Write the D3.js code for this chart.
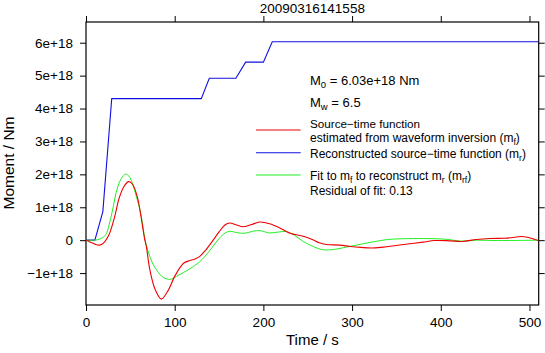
<!DOCTYPE html>
<html><head><meta charset="utf-8">
<script src="https://cdn.jsdelivr.net/npm/d3@7"></script>
<style>
body{margin:0;background:#fff;}
svg{display:block;font-family:"Liberation Sans",Arial,Helvetica,sans-serif;}
</style></head>
<body><svg id="c" width="545" height="353"></svg>
<script>
// ---- data (moment values in units of 1e18 Nm) ----
const title = "20090316141558";
const xTicks = [0, 100, 200, 300, 400, 500];
const yTicks = [-1, 0, 1, 2, 3, 4, 5, 6];
const yTickLabels = ["\u22121e+18", "0", "1e+18", "2e+18", "3e+18", "4e+18", "5e+18", "6e+18"];

const tMf = [0,5,10,15,20,26,32,37.5,43,48,52.5,58,62,66,68,72,78,85,93,100,110,117,123,128,135,142,150,157,162,170,177,186,196,207,218,230,245,255,263,271,286,298,310,322,335,350,365,380,393,410,424,440,455,472,482,490,499,505,510];
const mf  = [0,-0.06,-0.12,-0.15,-0.08,0.17,0.68,1.29,1.64,1.78,1.70,1.30,0.72,0.05,-0.19,-0.90,-1.50,-1.79,-1.51,-1.10,-0.70,-0.62,-0.57,-0.50,-0.30,-0.05,0.25,0.47,0.52,0.46,0.41,0.47,0.55,0.50,0.38,0.21,0.12,0.02,-0.08,-0.13,-0.15,-0.19,-0.22,-0.24,-0.21,-0.16,-0.11,-0.06,-0.01,-0.02,-0.04,0.02,0.05,0.06,0.08,0.11,0.08,0.03,-0.01];

const tMr = [0,10,19,29,130,139,169,180,200,210,510];
const mr  = [0,0,0.87,4.30,4.30,4.92,4.92,5.41,5.41,6.03,6.03];

const tMrf = [0,10,15,20,23,28,31,34,38,42,45,48,51,56,62,66,68,72,76,80,87,95,102,110,117,128,140,150,157,162,170,179,188,196,207,215,226,235,245,255,267,280,290,301,312,324,340,354,375,405,424,440,460,480,510];
const mrf  = [0,0,0.03,0.10,0.20,0.68,1.05,1.45,1.78,1.96,2.01,1.96,1.82,1.40,0.78,0.10,-0.15,-0.50,-0.75,-0.92,-1.13,-1.19,-1.10,-0.98,-0.87,-0.66,-0.30,0.05,0.22,0.27,0.23,0.21,0.27,0.29,0.22,0.24,0.26,0.15,-0.04,-0.18,-0.29,-0.28,-0.23,-0.17,-0.11,-0.05,0.02,0.04,0.05,0.03,-0.03,0.0,-0.01,-0.01,0.0];

const M0text = "6.03e+18 Nm";
const Mwtext = "6.5";
const residual = "0.13";

// ---- layout ----
const svg = d3.select("#c");
const L = 86, R = 538.7, T = 22, B = 305;
const x = d3.scaleLinear().domain([0, 510.4]).range([L, R]);
const y = d3.scaleLinear().domain([-1.97, 6.63]).range([B, T]);

// axes
const fs = 13.5;
const gB = svg.append("g").attr("transform", `translate(0,${B})`)
  .call(d3.axisBottom(x).tickValues(xTicks).tickSize(6).tickPadding(6).tickFormat(d3.format("d")));
const gT = svg.append("g").attr("transform", `translate(0,${T})`)
  .call(d3.axisTop(x).tickValues(xTicks).tickSize(6).tickFormat(""));
const gL = svg.append("g").attr("transform", `translate(${L},0)`)
  .call(d3.axisLeft(y).tickValues(yTicks).tickSize(6).tickPadding(7).tickFormat((d,i)=>yTickLabels[i]));
const gR = svg.append("g").attr("transform", `translate(${R},0)`)
  .call(d3.axisRight(y).tickValues(yTicks).tickSize(6).tickFormat(""));
[gB,gT,gL,gR].forEach(g=>{
  g.select(".domain").remove();
  g.selectAll("line").attr("stroke","#000");
  g.selectAll("text").attr("font-size",fs).attr("fill","#000").attr("font-family","Liberation Sans, Arial, sans-serif");
});
gB.selectAll("text").attr("dy","0.71em");

// box
svg.append("rect").attr("x",L).attr("y",T).attr("width",R-L).attr("height",B-T)
  .attr("fill","none").attr("stroke","#000").attr("stroke-width",1.2);

// clip
svg.append("clipPath").attr("id","clip").append("rect").attr("x",L).attr("y",T).attr("width",R-L).attr("height",B-T);

const mk = (ts, vs) => ts.map((t,i)=>[t, vs[i]]);
const smooth = d3.line().x(d=>x(d[0])).y(d=>y(d[1])).curve(d3.curveCatmullRom.alpha(0.5));
const straight = d3.line().x(d=>x(d[0])).y(d=>y(d[1]));
const plot = svg.append("g").attr("clip-path","url(#clip)");
plot.append("path").attr("d", straight(mk(tMr, mr))).attr("fill","none").attr("stroke","#1010e0").attr("stroke-width",1.1);
plot.append("path").attr("d", smooth(mk(tMrf, mrf))).attr("fill","none").attr("stroke","#22ee22").attr("stroke-width",1);
plot.append("path").attr("d", smooth(mk(tMf, mf))).attr("fill","none").attr("stroke","#ee0000").attr("stroke-width",1.1);

// titles
svg.append("text").attr("x",(L+R)/2).attr("y",13).attr("text-anchor","middle").attr("font-size",13.5).text(title);
svg.append("text").attr("x",(L+R)/2).attr("y",345).attr("text-anchor","middle").attr("font-size",15).text("Time / s");
svg.append("text").attr("transform","translate(14,163) rotate(-90)").attr("text-anchor","middle").attr("font-size",15.5).text("Moment / Nm");

// legend
const lx = 310, lfs = 12;
function sub(t, main, s, after){
  t.append("tspan").text(main);
  t.append("tspan").attr("font-size",lfs*0.72).attr("dy",3).text(s);
  if (after!==undefined) t.append("tspan").attr("dy",-3).text(after);
}
let t1 = svg.append("text").attr("x",lx).attr("y",85).attr("font-size",13);
t1.append("tspan").text("M");
t1.append("tspan").attr("font-size",9.5).attr("dy",3).text("0");
t1.append("tspan").attr("dy",-3).text(" = " + M0text);
let t2 = svg.append("text").attr("x",lx).attr("y",106.5).attr("font-size",13);
t2.append("tspan").text("M");
t2.append("tspan").attr("font-size",9.5).attr("dy",3).text("w");
t2.append("tspan").attr("dy",-3).text(" = " + Mwtext);

const legLines = [{c:"#ee0000",y:130},{c:"#1010e0",y:152.7},{c:"#22ee22",y:175}];
legLines.forEach(d=>svg.append("line").attr("x1",256).attr("x2",300.7).attr("y1",d.y).attr("y2",d.y).attr("stroke",d.c).attr("stroke-width",1.1));

svg.append("text").attr("x",lx).attr("y",128).attr("font-size",11.7).text("Source\u2212time function");
let t3 = svg.append("text").attr("x",lx).attr("y",141.5).attr("font-size",lfs);
sub(t3, "estimated from waveform inversion (m", "f", ")");
let t4 = svg.append("text").attr("x",lx).attr("y",157.5).attr("font-size",lfs);
sub(t4, "Reconstructed source\u2212time function (m", "r", ")");
let t5 = svg.append("text").attr("x",lx).attr("y",180).attr("font-size",lfs);
t5.append("tspan").text("Fit to m");
t5.append("tspan").attr("font-size",lfs*0.72).attr("dy",3).text("f");
t5.append("tspan").attr("dy",-3).text(" to reconstruct m");
t5.append("tspan").attr("font-size",lfs*0.72).attr("dy",3).text("r");
t5.append("tspan").attr("dy",-3).text(" (m");
t5.append("tspan").attr("font-size",lfs*0.72).attr("dy",3).text("rf");
t5.append("tspan").attr("dy",-3).text(")");
svg.append("text").attr("x",lx).attr("y",195).attr("font-size",lfs).text("Residual of fit: " + residual);
</script></body></html>
